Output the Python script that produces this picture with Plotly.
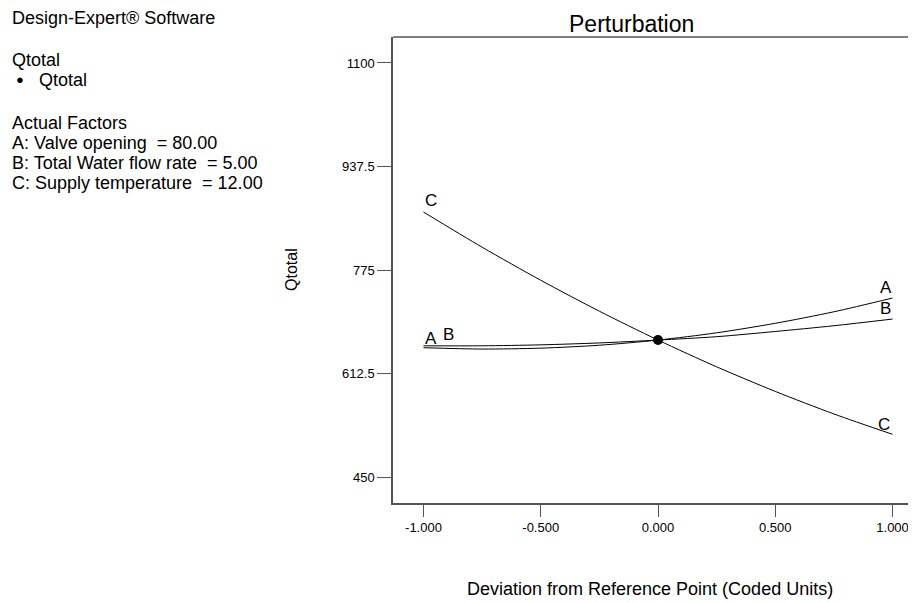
import plotly.graph_objects as go

# ---- data ----
dev = [-1.0, -0.75, -0.5, -0.25, 0.0, 0.25, 0.5, 0.75, 1.0]
q_A = [653.0, 650.9, 652.3, 656.9, 665.0, 676.4, 691.3, 709.4, 731.0]
q_B = [656.0, 656.0, 657.5, 660.5, 665.0, 670.3, 678.5, 687.5, 698.0]
q_C = [866.0, 810.8, 758.9, 710.3, 665.0, 623.0, 584.4, 549.0, 517.0]
ref_x = [0.0]
ref_y = [665.0]

x_tickvals = [-1.0, -0.5, 0.0, 0.5, 1.0]
x_ticktext = ["-1.000", "-0.500", "0.000", "0.500", "1.000"]
y_tickvals = [450, 612.5, 775, 937.5, 1100]
y_ticktext = ["450", "612.5", "775", "937.5", "1100"]

side_lines = [
    ("Design-Expert® Software", 18),
    ("Qtotal", 60),
    ("Qtotal", 80),
    ("Actual Factors", 123),
    ("A: Valve opening  = 80.00", 143),
    ("B: Total Water flow rate  = 5.00", 163),
    ("C: Supply temperature  = 12.00", 183),
]

# ---- layout geometry (screen pixels; page body has an 8px margin) ----
OFF = 8
W, H = 916 - OFF, 603 - OFF
SL, ST, SB, SR = 393, 37, 503, 916          # plot area on screen
L = SL - OFF
T = ST - OFF
B = H - (SB - OFF)
R = W - (SR - OFF)
PW, PH = W - L - R, H - T - B
FONT = "Arial, Liberation Sans, sans-serif"
AX = "#555555"


def px(xs):
    return (xs - OFF - L) / PW


def py(ys):
    return (H - B - (ys - OFF)) / PH


fig = go.Figure()
line_style = dict(color="black", width=1, shape="spline", smoothing=0.8)
fig.add_trace(go.Scatter(x=dev, y=q_A, mode="lines", line=line_style, name="A", showlegend=False, hoverinfo="skip"))
fig.add_trace(go.Scatter(x=dev, y=q_B, mode="lines", line=line_style, name="B", showlegend=False, hoverinfo="skip"))
fig.add_trace(go.Scatter(x=dev, y=q_C, mode="lines", line=line_style, name="C", showlegend=False, hoverinfo="skip"))
fig.add_trace(go.Scatter(x=ref_x, y=ref_y, mode="markers", marker=dict(color="black", size=10),
                         showlegend=False, hoverinfo="skip"))

ann = []
lab_font = dict(family=FONT, size=17, color="black")
# curve labels
ann.append(dict(x=dev[0], y=q_C[0], xref="x", yref="y", text="C", showarrow=False, font=lab_font,
                xshift=8, yshift=12))
ann.append(dict(x=dev[0], y=q_A[0], xref="x", yref="y", text="A", showarrow=False, font=lab_font,
                xshift=8, yshift=9))
ann.append(dict(x=dev[0], y=q_B[0], xref="x", yref="y", text="B", showarrow=False, font=lab_font,
                xshift=25, yshift=11))
ann.append(dict(x=dev[-1], y=q_A[-1], xref="x", yref="y", text="A", showarrow=False, font=lab_font,
                xshift=-7, yshift=11))
ann.append(dict(x=dev[-1], y=q_B[-1], xref="x", yref="y", text="B", showarrow=False, font=lab_font,
                xshift=-7, yshift=11))
ann.append(dict(x=dev[-1], y=q_C[-1], xref="x", yref="y", text="C", showarrow=False, font=lab_font,
                xshift=-9, yshift=10))

# side text
for i, (txt, yy) in enumerate(side_lines):
    xx = 37 if i == 2 else 10
    ann.append(dict(x=px(xx), y=py(yy), xref="paper", yref="paper", text=txt, showarrow=False,
                    xanchor="left", yanchor="middle", font=dict(family=FONT, size=18, color="black")))
ann.append(dict(x=px(20), y=py(79), xref="paper", yref="paper", text="●", showarrow=False,
                xanchor="center", yanchor="middle", font=dict(family=FONT, size=13, color="black")))

# titles
ann.append(dict(x=px(631), y=py(24), xref="paper", yref="paper", text="Perturbation", showarrow=False,
                xanchor="center", yanchor="middle", font=dict(family=FONT, size=23, color="black")))
ann.append(dict(x=px(650), y=py(589), xref="paper", yref="paper",
                text="Deviation from Reference Point (Coded Units)", showarrow=False,
                xanchor="center", yanchor="middle", font=dict(family=FONT, size=18, color="black")))
ann.append(dict(x=px(291), y=py(270), xref="paper", yref="paper", text="Qtotal", showarrow=False,
                textangle=-90, xanchor="center", yanchor="middle",
                font=dict(family=FONT, size=16, color="black")))

fig.update_layout(
    width=W, height=H,
    margin=dict(l=L, r=R, t=T, b=B, pad=0),
    paper_bgcolor="white", plot_bgcolor="white",
    annotations=ann,
    shapes=[dict(type="line", xref="paper", yref="paper", x0=0, x1=1, y0=1, y1=1,
                 line=dict(color=AX, width=1.5))],
    xaxis=dict(range=[-1.130, 1.100], tickvals=x_tickvals, ticktext=x_ticktext,
               showgrid=False, zeroline=False, showline=True, linecolor=AX, linewidth=1.5,
               ticks="outside", ticklen=12, tickwidth=1, tickcolor=AX,
               tickfont=dict(family=FONT, size=13, color="black")),
    yaxis=dict(range=[409.2, 1140.8], tickvals=y_tickvals, ticktext=y_ticktext,
               showgrid=False, zeroline=False, showline=True, linecolor=AX, linewidth=1.5,
               ticks="outside", ticklen=14, tickwidth=1, tickcolor=AX,
               tickfont=dict(family=FONT, size=13, color="black")),
    font=dict(family=FONT),
)

fig.write_html("out.html")
